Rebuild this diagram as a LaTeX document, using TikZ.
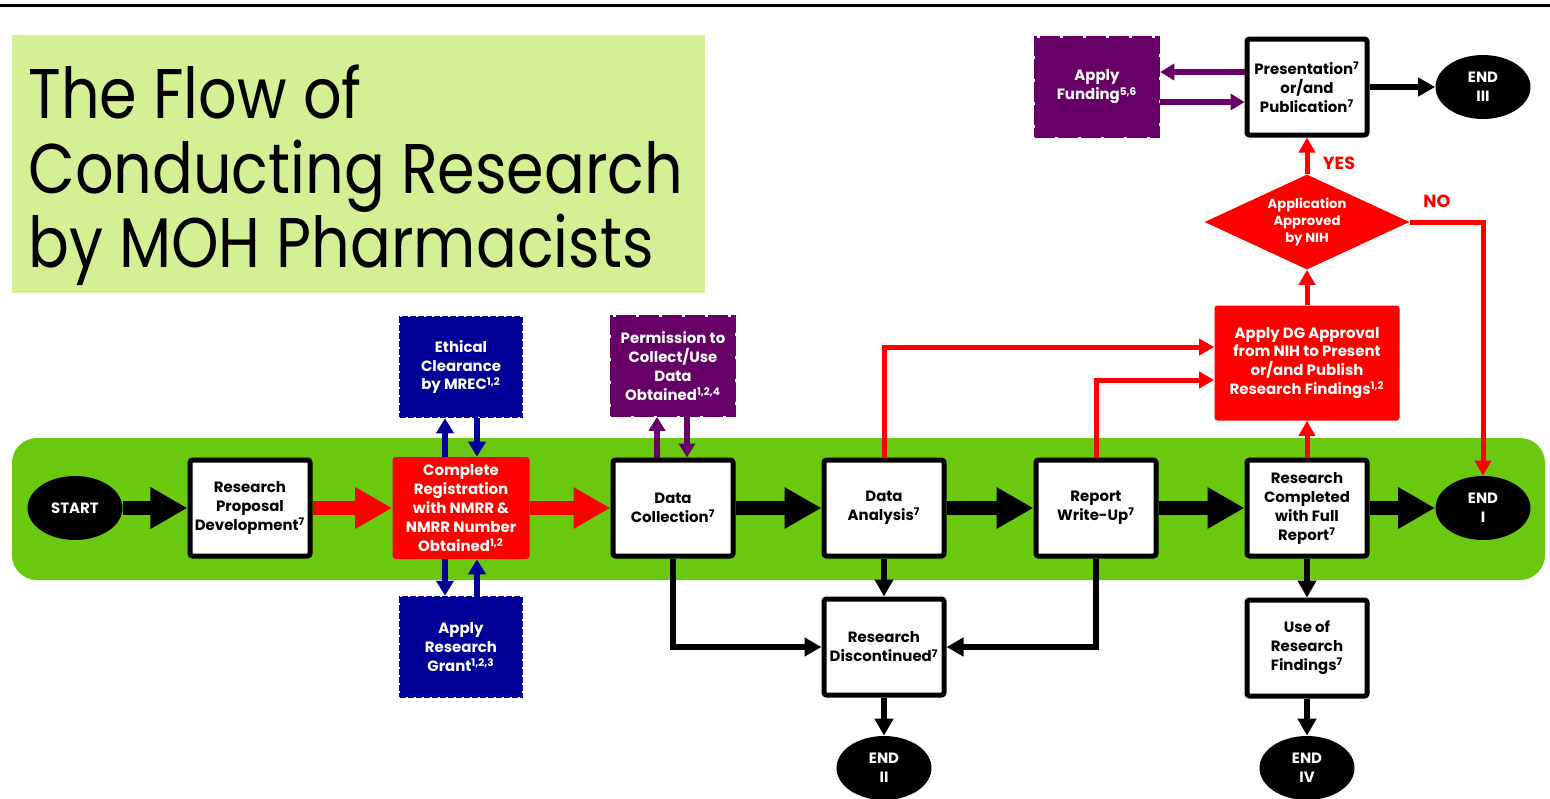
\documentclass[tikz,border=0pt]{standalone}
\usepackage{fontspec}
\setmainfont{Poppins}
\newfontfamily\titlefont[FakeStretch=0.86]{Poppins}
\usetikzlibrary{arrows.meta,positioning,shapes.geometric}

\definecolor{titlegreen}{RGB}{213,240,148}
\definecolor{bandgreen}{RGB}{106,200,14}
\definecolor{mohred}{RGB}{255,0,0}
\definecolor{mohblue}{RGB}{0,0,153}
\definecolor{mohpurple}{RGB}{102,0,102}

\tikzset{
  boxtext/.style={font=\bfseries\fontsize{8.5}{10.8}\selectfont, align=center},
  stepbox/.style={boxtext, draw=black, fill=white, line width=1mm,
    rounded corners=0.5mm, minimum width=24mm, minimum height=19.2mm, inner sep=0pt},
  redbox/.style={boxtext, fill=mohred, text=white, rounded corners=0.6mm, inner sep=0pt},
  bluebox/.style={boxtext, fill=mohblue, draw=mohblue, text=white, line width=0.5mm,
    dash pattern=on 1.2mm off 0.4mm, minimum width=24.4mm, minimum height=20mm, inner sep=0pt},
  purplebox/.style={boxtext, fill=mohpurple, draw=mohpurple, text=white, line width=0.5mm,
    dash pattern=on 4mm off 0.6mm, minimum width=24.8mm, minimum height=19.8mm, inner sep=0pt},
  endnode/.style={boxtext, ellipse, fill=black, text=white,
    minimum width=19mm, minimum height=12.8mm, inner sep=0pt},
  decision/.style={diamond, fill=mohred, text=white, align=center,
    font=\bfseries\fontsize{7.5}{9.6}\selectfont, aspect=2.16,
    minimum width=41mm, minimum height=19mm, inner sep=0pt},
  answer/.style={text=mohred, font=\bfseries\fontsize{10}{12}\selectfont},
  titleline/.style={anchor=base west, inner sep=0pt, font=\titlefont\fontsize{40}{44}\selectfont},
  bigarrow/.style={line width=2.8mm, -{Triangle[length=7.4mm,width=7.8mm]}},
  thinarrow/.style={line width=1.3mm, -{Triangle[length=3.4mm,width=3.6mm]}},
  redline/.style={mohred, line width=1mm, -{Triangle[length=3mm,width=3.2mm]}},
  bluearrow/.style={mohblue, line width=1.2mm, -{Triangle[length=3mm,width=3.4mm]}},
  purplearrow/.style={mohpurple, line width=1.1mm, -{Triangle[length=2.8mm,width=3.2mm]}}
}

\begin{document}
\begin{tikzpicture}[x=0.2mm, y=-0.2mm]
  \useasboundingbox (0,0) rectangle (1550,799);

  % background
  \draw[line width=0.6mm] (0,5) -- (1550,5);
  \fill[titlegreen] (12,35) rectangle (705,293);
  \fill[bandgreen, rounded corners=5mm] (12,438) rectangle (1545,580);

  \node[titleline] (title1) at (28,118) {The Flow of};
  \node[titleline] (title2) at (28,193) {Conducting Research};
  \node[titleline] (title3) at (28,267) {by MOH Pharmacists};

  % main row
  \node[endnode] (start) at (75,508) {START};
  \node[stepbox] (rpd) at (250,508) {Research\\Proposal\\Development\textsuperscript{7}};
  \node[redbox, minimum width=27.4mm, minimum height=20.4mm] (reg) at (461,508)
    {Complete\\Registration\\with NMRR \&\\NMRR Number\\Obtained\textsuperscript{1,2}};
  \node[stepbox] (dc) at (673,508) {Data\\Collection\textsuperscript{7}};
  \node[stepbox] (da) at (884,508) {Data\\Analysis\textsuperscript{7}};
  \node[stepbox] (rw) at (1096,508) {Report\\Write-Up\textsuperscript{7}};
  \node[stepbox] (rc) at (1307,508) {Research\\Completed\\with Full\\Report\textsuperscript{7}};
  \node[endnode] (end1) at (1483,508) {END\\I};

  % side steps
  \node[bluebox] (eth) at (461,367) {Ethical\\Clearance\\by MREC\textsuperscript{1,2}};
  \node[bluebox] (grant) at (461,647) {Apply\\Research\\Grant\textsuperscript{1,2,3}};
  \node[purplebox] (perm) at (673,366) {Permission to\\Collect/Use\\Data\\Obtained\textsuperscript{1,2,4}};
  \node[stepbox] (disc) at (884,647) {Research\\Discontinued\textsuperscript{7}};
  \node[endnode] (end2) at (884,768) {END\\II};
  \node[stepbox] (use) at (1307,648) {Use of\\Research\\Findings\textsuperscript{7}};
  \node[endnode] (end4) at (1307,768) {END\\IV};

  % approval branch
  \node[redbox, minimum width=37mm, minimum height=23mm] (dg) at (1307,363)
    {Apply DG Approval\\from NIH to Present\\or/and Publish\\Research Findings\textsuperscript{1,2}};
  \node[decision] (appr) at (1307,222) {Application\\Approved\\by NIH};
  \node[stepbox] (pres) at (1307,87) {Presentation\textsuperscript{7}\\or/and\\Publication\textsuperscript{7}};
  \node[endnode] (end3) at (1483,87) {END\\III};
  \node[purplebox] (fund) at (1097,87) {Apply\\Funding\textsuperscript{5,6}};
  \node[answer] (yes) at (1339,163) {YES};
  \node[answer] (no) at (1437,201) {NO};

  % connectors
  \draw[bigarrow] (start) -- (rpd);
  \draw[bigarrow, mohred] (rpd) -- (reg);
  \draw[bigarrow, mohred] (reg) -- (dc);
  \draw[bigarrow] (dc) -- (da);
  \draw[bigarrow] (da) -- (rw);
  \draw[bigarrow] (rw) -- (rc);
  \draw[bigarrow] (rc) -- (end1);

  \draw[bluearrow] ([xshift=-3.2mm]reg.north) -- ([xshift=-3.2mm]eth.south);
  \draw[bluearrow] ([xshift=3.2mm]eth.south) -- ([xshift=3.2mm]reg.north);
  \draw[bluearrow] ([xshift=-3.2mm]reg.south) -- ([xshift=-3.2mm]grant.north);
  \draw[bluearrow] ([xshift=3.2mm]grant.north) -- ([xshift=3.2mm]reg.south);
  \draw[purplearrow] ([xshift=-3.2mm]dc.north) -- ([xshift=-3.2mm]perm.south);
  \draw[purplearrow] ([xshift=2.8mm]perm.south) -- ([xshift=2.8mm]dc.north);

  \draw[thinarrow] (dc.south) |- (disc.west);
  \draw[thinarrow] (da) -- (disc);
  \draw[thinarrow] (rw.south) |- (disc.east);
  \draw[thinarrow] (disc) -- (end2);
  \draw[thinarrow] (rc) -- (use);
  \draw[thinarrow] (use) -- (end4);

  \draw[redline] (da.north) |- ([yshift=3.2mm]dg.west);
  \draw[redline] (rw.north) |- ([yshift=-3.4mm]dg.west);
  \draw[redline] (rc) -- (dg);
  \draw[redline] (dg) -- (appr);
  \draw[redline] (appr) -- (pres);
  \draw[redline] (appr.east) -| (end1.north);

  \draw[thinarrow, line width=1.2mm] (pres) -- (end3);
  \draw[purplearrow] ([yshift=3mm]pres.west) -- ([yshift=3mm]fund.east);
  \draw[purplearrow] ([yshift=-3mm]fund.east) -- ([yshift=-3mm]pres.west);
\end{tikzpicture}
\end{document}
